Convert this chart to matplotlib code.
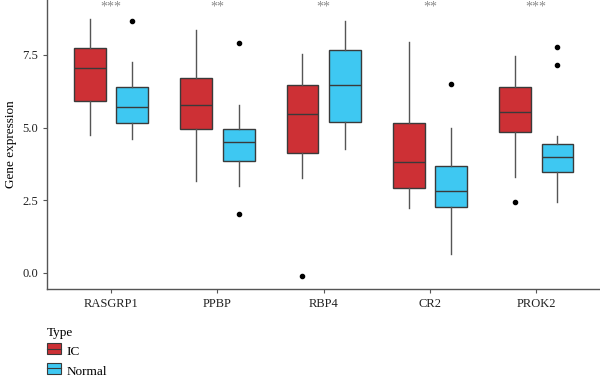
import matplotlib
matplotlib.use("Agg")
import matplotlib.pyplot as plt
from matplotlib.patches import Patch
from matplotlib.legend_handler import HandlerPatch
import matplotlib.patches as mpatches

genes = ["RASGRP1", "PPBP", "RBP4", "CR2", "PROK2"]
groups = ["IC", "Normal"]
colors = {"IC": "#CD3035", "Normal": "#3EC8F2"}
signif = ["***", "**", "**", "**", "***"]

# five-number summaries: (whislo, q1, med, q3, whishi)
ic_stats = [
    (4.75, 5.91, 7.04, 7.73, 8.73),
    (3.15, 4.95, 5.77, 6.70, 8.36),
    (3.26, 4.12, 5.48, 6.47, 7.52),
    (2.22, 2.93, 3.81, 5.17, 7.94),
    (3.29, 4.85, 5.55, 6.40, 7.45),
]
ic_outliers = [[], [], [-0.10], [], [2.43]]
normal_stats = [
    (4.62, 5.15, 5.70, 6.39, 7.25),
    (2.99, 3.84, 4.50, 4.96, 5.78),
    (4.28, 5.20, 6.48, 7.68, 8.67),
    (0.64, 2.27, 2.81, 3.68, 4.99),
    (2.43, 3.48, 4.00, 4.43, 4.71),
]
normal_outliers = [[8.68], [7.90, 2.02], [], [6.51], [7.78, 7.17]]

plt.rcParams["font.family"] = ["Liberation Serif", "DejaVu Serif"]

fig = plt.figure(figsize=(6, 3.8), dpi=100)
ax = fig.add_axes([0.079, 0.239, 0.921, 0.761])

def make(stats, outs):
    res = []
    for (lo, q1, med, q3, hi), fl in zip(stats, outs):
        res.append(dict(whislo=lo, q1=q1, med=med, q3=q3, whishi=hi, fliers=fl))
    return res

offset = 0.2
width = 0.3
for grp, stats, outs, sgn in [("IC", ic_stats, ic_outliers, -1), ("Normal", normal_stats, normal_outliers, 1)]:
    pos = [i + sgn * offset for i in range(len(genes))]
    ax.bxp(make(stats, outs), positions=pos, widths=width, patch_artist=True,
           showcaps=False,
           boxprops=dict(facecolor=colors[grp], edgecolor="#3a3a3a", linewidth=1.0),
           medianprops=dict(color="#3a3a3a", linewidth=1.0),
           whiskerprops=dict(color="#555555", linewidth=1.0),
           flierprops=dict(marker="o", markerfacecolor="black", markeredgecolor="black",
                           markersize=3, linestyle="none"),
           manage_ticks=False, zorder=2)

for i, s in enumerate(signif):
    ax.text(i, 9.14, s, ha="center", va="center", color="#8a8a8a", fontsize=10)

ax.set_xlim(-0.6, 4.6)
ax.set_ylim(-0.56, 9.39)
ax.set_xticks(range(len(genes)))
ax.set_xticklabels(genes, fontsize=9)
ax.set_yticks([0, 2.5, 5.0, 7.5])
ax.set_yticklabels(["0.0", "2.5", "5.0", "7.5"], fontsize=9)
ax.set_ylabel("Gene expression", fontsize=9.5)
for sp in ["top", "right"]:
    ax.spines[sp].set_visible(False)
for sp in ["left", "bottom"]:
    ax.spines[sp].set_color("#555555")
    ax.spines[sp].set_linewidth(1.0)
ax.tick_params(colors="#555555", length=3, width=0.8, labelcolor="#222222")

class HandlerBox(HandlerPatch):
    def create_artists(self, legend, orig_handle, xdescent, ydescent, width, height, fontsize, trans):
        r = mpatches.Rectangle((xdescent, ydescent), width, height,
                               facecolor=orig_handle.get_facecolor(), edgecolor="#3a3a3a",
                               linewidth=0.8, transform=trans)
        l = plt.Line2D([xdescent, xdescent + width], [ydescent + height / 2] * 2,
                       color="#3a3a3a", linewidth=0.8, transform=trans)
        return [r, l]

handles = [Patch(facecolor=colors[g], label=g) for g in groups]
leg = fig.legend(handles=handles, labels=groups, title="Type", loc="upper left",
                 bbox_to_anchor=(0.058, 0.172), frameon=False, fontsize=9.5,
                 title_fontsize=9.5, handlelength=1.1, handleheight=0.9,
                 handletextpad=0.4, labelspacing=0.5,
                 handler_map={Patch: HandlerBox()})
leg._legend_box.align = "left"

fig.savefig("out.png", dpi=100)
